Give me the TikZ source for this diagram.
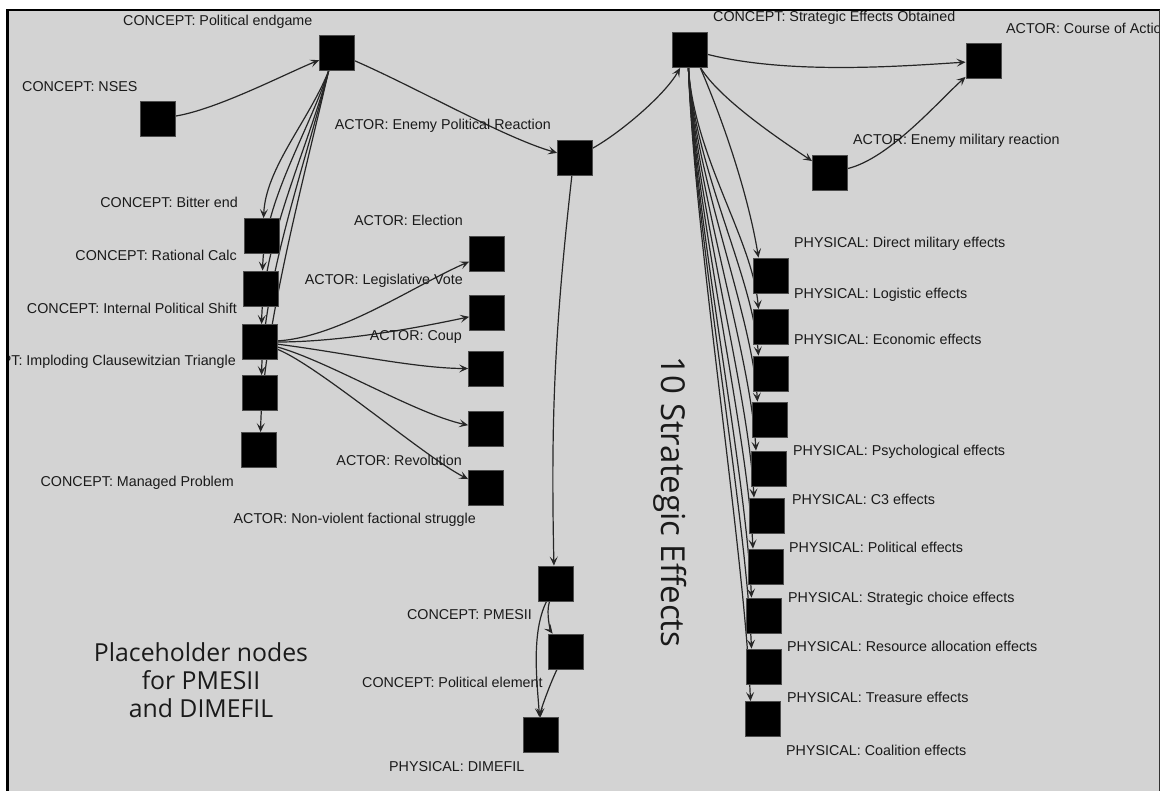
\documentclass[tikz,border=0pt]{standalone}
\usepackage{fontspec}
\setmainfont{Liberation Sans}
\newfontfamily\notefont{Open Sans}
\usetikzlibrary{arrows.meta}

\definecolor{panel}{RGB}{211,211,211}
\definecolor{ink}{RGB}{26,26,26}
\definecolor{wire}{RGB}{38,38,38}

\pgfdeclarelayer{bg}
\pgfdeclarelayer{wires}
\pgfsetlayers{bg,wires,main}

\tikzset{
  box/.style={fill=black, draw=black!70, line width=0.8pt, minimum size=35pt, inner sep=0pt},
  lbl/.style={text=ink, font=\fontsize{14.3}{16}\selectfont, inner sep=0pt, text height=10pt, text depth=3pt},
  lw/.style={lbl, anchor=west},
  le/.style={lbl, anchor=east},
  link/.style={draw=wire, line width=1.2pt, -{Stealth[length=9pt,width=8pt,inset=4pt]}},
  note/.style={text=ink, inner sep=0pt},
}

\begin{document}
\begin{tikzpicture}[x=1pt,y=-1pt]
\useasboundingbox (0,0) rectangle (1160,791);
\begin{pgfonlayer}{bg}
  \fill[white] (0,0) rectangle (1160,791);
  \fill[panel] (8,10) rectangle (1160,791);
\end{pgfonlayer}

\begin{scope}
\clip (8.5,10.5) rectangle (1159,791);

% ---- concept / actor squares ----
\node[box] (pe)   at (337,53)  {};
\node[box] (nses) at (158,119) {};
\node[box] (epr)  at (575,158) {};
\node[box] (seo)  at (690,50)  {};
\node[box] (coa)  at (983.5,61) {};
\node[box] (emr)  at (830,173) {};

\node[box] (be)  at (262,236)   {};
\node[box] (rc)  at (261,288.5) {};
\node[box] (ips) at (260,342)   {};
\node[box] (ict) at (260,393)   {};
\node[box] (mp)  at (259,450)   {};

\node[box] (el) at (487,254)   {};
\node[box] (lv) at (487,313)   {};
\node[box] (cp) at (486,368.5) {};
\node[box] (nv) at (486,429)   {};
\node[box] (rv) at (486,488)   {};

\node[box] (pm)  at (555.5,583.5) {};
\node[box] (pol) at (566,651.5)   {};
\node[box] (dim) at (540.5,735)   {};

\node[box] (p1)  at (771,275.5) {};
\node[box] (p2)  at (771,327)   {};
\node[box] (p3)  at (771,373.5) {};
\node[box] (p4)  at (770,419.5) {};
\node[box] (p5)  at (768.5,468.5) {};
\node[box] (p6)  at (766.5,515.5) {};
\node[box] (p7)  at (765.5,566.5) {};
\node[box] (p8)  at (764,615.5) {};
\node[box] (p9)  at (764,666.5) {};
\node[box] (p10) at (763,719)   {};

% ---- labels ----
\node[lw] (t-pe)   at (123,22)  {CONCEPT: Political endgame};
\node[lw] (t-nses) at (22,88)   {CONCEPT: NSES};
\node[le] (t-epr)  at (551,126) {ACTOR: Enemy Political Reaction};
\node[lw] (t-seo)  at (713,18)  {CONCEPT: Strategic Effects Obtained};
\node[lw] (t-coa)  at (1006,30) {ACTOR: Course of Action};
\node[lw] (t-emr)  at (853,141) {ACTOR: Enemy military reaction};

\node[le] (t-be)  at (238,204) {CONCEPT: Bitter end};
\node[le] (t-rc)  at (237,257) {CONCEPT: Rational Calc};
\node[le] (t-ips) at (237,310) {CONCEPT: Internal Political Shift};
\node[le] (t-ict) at (236,362) {CONCEPT: Imploding Clausewitzian Triangle};
\node[le] (t-mp)  at (234,483) {CONCEPT: Managed Problem};

\node[le] (t-el) at (463,222) {ACTOR: Election};
\node[le] (t-lv) at (463,281) {ACTOR: Legislative Vote};
\node[le] (t-cp) at (462,337) {ACTOR: Coup};
\node[le] (t-rv) at (462,462) {ACTOR: Revolution};
\node[le] (t-nv) at (476,520) {ACTOR: Non-violent factional struggle};

\node[le] (t-pm)  at (532,616) {CONCEPT: PMESII};
\node[lw] (t-pol) at (362,684) {CONCEPT: Political element};
\node[lw] (t-dim) at (389,768) {PHYSICAL: DIMEFIL};

\node[lw] (t-p1)  at (794,244) {PHYSICAL: Direct military effects};
\node[lw] (t-p2)  at (794,295) {PHYSICAL: Logistic effects};
\node[lw] (t-p3)  at (794,341) {PHYSICAL: Economic effects};
\node[lw] (t-p5)  at (793,452) {PHYSICAL: Psychological effects};
\node[lw] (t-p6)  at (792,501) {PHYSICAL: C3 effects};
\node[lw] (t-p7)  at (789,549) {PHYSICAL: Political effects};
\node[lw] (t-p8)  at (788,599) {PHYSICAL: Strategic choice effects};
\node[lw] (t-p9)  at (787,648) {PHYSICAL: Resource allocation effects};
\node[lw] (t-p10) at (787,699) {PHYSICAL: Treasure effects};
\node[lw] (t-p11) at (786,752) {PHYSICAL: Coalition effects};

\node[note, rotate=-90, font=\notefont\fontsize{33}{38}\selectfont] (t-ten) at (670,502) {10 Strategic Effects};
\node[note, align=center, font=\notefont\fontsize{24.8}{28}\selectfont] (t-ph) at (201,680)
  {Placeholder nodes\\for PMESII\\and DIMEFIL};
\end{scope}

% ---- connectors ----
\begin{pgfonlayer}{wires}
\path[link] (nses) .. controls +(60,-10) and +(-50,20) .. (pe);
\path[link] (pe) .. controls +(80,35) and +(-70,-20) .. (epr);
\path[link] (epr) .. controls +(45,-25) and +(-25,45) .. (seo);
\path[link] (seo) .. controls +(100,25) and +(-80,5) .. (coa);
\path[link] (seo) .. controls +(30,50) and +(-45,-30) .. (emr);
\path[link] (emr) .. controls +(60,-15) and +(-45,40) .. (coa);

\path[link] (pe.245) .. controls +(-20,50)  and +(2,-50)  .. (be.85);
\path[link] (pe.245) .. controls +(-22,65)  and +(2,-70)  .. (rc.85);
\path[link] (pe.245) .. controls +(-22,80)  and +(2,-85)  .. (ips.85);
\path[link] (pe.245) .. controls +(-24,95)  and +(2,-95)  .. (ict.85);
\path[link] (pe.245) .. controls +(-25,109) and +(2,-100) .. (mp.85);

\path[link] (ips) .. controls +(80,-5) and +(-70,30)  .. (el);
\path[link] (ips) .. controls +(80,0)  and +(-70,15)  .. (lv);
\path[link] (ips) .. controls +(80,10) and +(-70,0)   .. (cp);
\path[link] (ips) .. controls +(70,20) and +(-70,-15) .. (nv);
\path[link] (ips) .. controls +(60,25) and +(-60,-30) .. (rv);

\path[link] (epr.260) .. controls +(-18,160) and +(-3,-140) .. (pm.95);
\path[link] (pm) .. controls +(-10,30) and +(-15,-20) .. (pol);
\path[link] (pm) .. controls +(-25,50) and +(-3,-50) .. (dim);
\path[link] (pol) .. controls +(-15,30) and +(0,-25) .. (dim);

\path[link] (seo.300) .. controls +(30,70) and +(-8,-50) .. (p1.125);
\path[link] (seo.265) .. controls +(6,90)  and +(-6,-70) .. (p2.125);
\path[link] (seo.265) .. controls +(6,100) and +(-6,-80) .. (p3.125);
\path[link] (seo.265) .. controls +(6,110) and +(-6,-90) .. (p4.125);
\path[link] (seo.265) .. controls +(6,120) and +(-6,-100) .. (p5.125);
\path[link] (seo.265) .. controls +(6,130) and +(-6,-110) .. (p6.125);
\path[link] (seo.265) .. controls +(6,140) and +(-6,-120) .. (p7.125);
\path[link] (seo.265) .. controls +(6,150) and +(-6,-130) .. (p8.125);
\path[link] (seo.265) .. controls +(6,160) and +(-6,-140) .. (p9.125);
\path[link] (seo.265) .. controls +(6,170) and +(-6,-150) .. (p10.125);
\end{pgfonlayer}

% ---- frame ----
\draw[black, line width=3pt] (7.5,795) -- (7.5,10);
\draw[black, line width=2pt] (6,10) -- (1160,10);
\draw[black!80, line width=1.5pt] (1159.5,10) -- (1159.5,795);
\end{tikzpicture}
\end{document}
